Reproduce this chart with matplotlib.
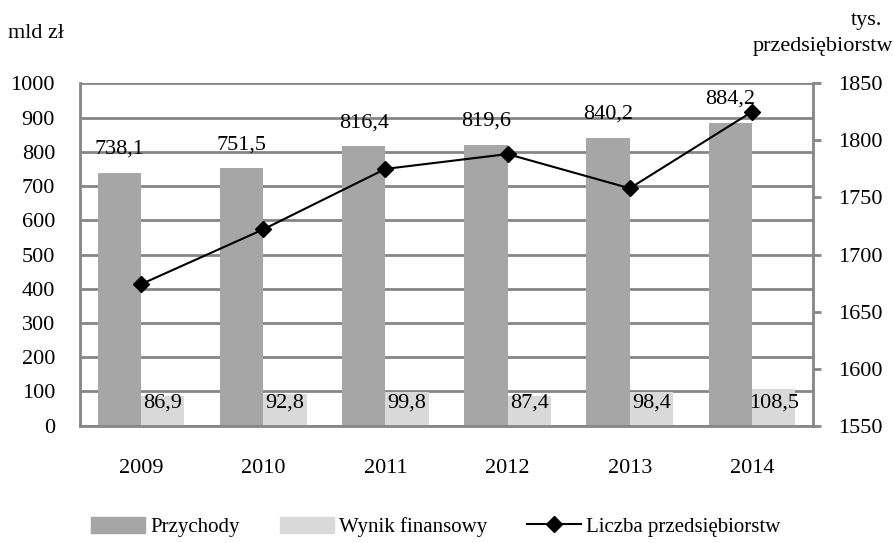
import numpy as np
import matplotlib.pyplot as plt
from matplotlib.lines import Line2D
from matplotlib.patches import Patch

plt.rcParams['font.family'] = ['Liberation Serif', 'DejaVu Serif']
plt.rcParams['font.size'] = 16

years = ['2009', '2010', '2011', '2012', '2013', '2014']
przychody = [738.1, 751.5, 816.4, 819.6, 840.2, 884.2]
wynik = [86.9, 92.8, 99.8, 87.4, 98.4, 108.5]
liczba = [1674, 1722, 1775, 1788, 1758, 1825]

dark = '#a6a6a6'
light = '#d9d9d9'
grid_col = '#868686'

fig = plt.figure(figsize=(8.95, 5.43), dpi=100)
ax = fig.add_axes([0.0894, 0.216, 0.8190, 0.6306])
x = np.arange(len(years))
w = 0.355

ax.bar(x - w / 2, przychody, w, color=dark, zorder=2)
ax.bar(x + w / 2, wynik, w, color=light, zorder=2)

for xi, v in zip(x, przychody):
    ax.annotate(f'{v:.1f}'.replace('.', ','), (xi - w / 2, v), xytext=(0, 17),
                textcoords='offset points', ha='center', va='center', zorder=5)
for xi, v in zip(x, wynik):
    ax.text(xi + w / 2, 66, f'{v:.1f}'.replace('.', ','), ha='center', va='center', zorder=5)

ax.set_xlim(-0.5, len(years) - 0.5)
ax.set_ylim(0, 1000)
ax.set_yticks(np.arange(0, 1001, 100))
ax.set_xticks(x)
ax.set_xticklabels(years)
ax.yaxis.grid(True, color=grid_col, linewidth=2, zorder=0)
ax.set_axisbelow(True)
ax.tick_params(axis='y', length=0, pad=18)
ax.tick_params(axis='x', length=0, pad=24)
for s in ['left', 'bottom']:
    ax.spines[s].set_color(grid_col)
    ax.spines[s].set_linewidth(2)
ax.spines['top'].set_visible(False)
ax.spines['right'].set_visible(False)

ax2 = ax.twinx()
ax2.plot(x, liczba, color='black', linewidth=1.5, marker='D', markersize=8, zorder=4)
ax2.set_ylim(1550, 1850)
ax2.set_yticks(np.arange(1550, 1851, 50))
ax2.tick_params(axis='y', length=6, width=2, color=grid_col, pad=12)
for s in ['left', 'bottom', 'top']:
    ax2.spines[s].set_visible(False)
ax2.spines['right'].set_color(grid_col)
ax2.spines['right'].set_linewidth(2)

fig.text(8 / 895, 1 - 33 / 543, 'mld zł', ha='left', va='center', fontsize=16)
fig.text(882 / 895, 1 - 20 / 543, 'tys.', ha='right', va='center', fontsize=16)
fig.text(893 / 895, 1 - 47 / 543, 'przedsiębiorstw', ha='right', va='center', fontsize=16)

handles = [Patch(color=dark), Patch(color=light),
           Line2D([0], [0], color='black', linewidth=1.5, marker='D', markersize=8)]
labels = ['Przychody', 'Wynik finansowy', 'Liczba przedsiębiorstw']
fig.legend(handles, labels, loc='center', bbox_to_anchor=(0.487, 0.03), ncol=3,
           frameon=False, handlelength=2.6, handleheight=0.8, handletextpad=0.25,
           columnspacing=1.9, fontsize=15, borderpad=0)

fig.savefig('out.png', dpi=100)
